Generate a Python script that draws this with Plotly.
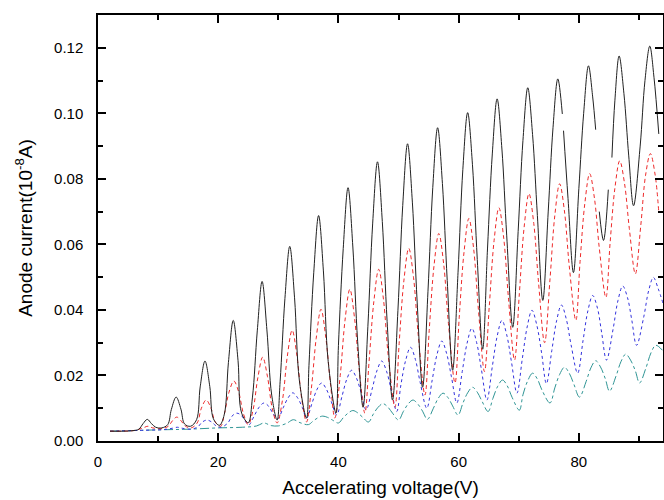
#!/usr/bin/env python3
"""
Franck-Hertz style anode current curves vs accelerating voltage.
"""

import plotly.graph_objects as go

# black solid curve (None marks the breaks in the trace)
volts_black = [2.0, 4.0, 6.0, 6.8, 7.5, 8.2, 8.9, 9.6, 10.6,
               11.6, 12.2, 13.0, 13.8, 14.4, 15.4,
               16.4, 17.0, 17.8, 18.6, 19.2, 20.2,
               21.0, 21.7, 22.5, 23.3, 23.9, 25.0,
               25.7, 26.5, 27.3, 28.1, 28.9, 29.8,
               30.3, 31.1, 31.9, 32.7, 33.5, 34.7,
               35.1, 35.9, 36.7, 37.5, 38.3, 39.6,
               40.0, 40.8, 41.6, 42.4, 43.2, 44.1,
               44.9, 45.7, 46.5, 47.3, 48.1, 49.0,
               49.9, 50.7, 51.5, 52.3, 53.1, 54.0,
               54.9, 55.7, 56.5, 57.3, 58.1, 59.0,
               59.9, 60.7, 61.5, 62.3, 63.1, 64.0,
               64.8, 65.6, 66.4, 67.2, 68.0, 69.0,
               69.9, 70.7, 71.5, 72.3, 73.1, 74.0,
               74.9, 75.7, 76.5, 77.25, None, 77.45, 78.2, 79.1,
               80.0, 80.8, 81.6, 82.3, 82.8, None, 83.4, 84.1, 84.9, None,
               85.5, 86.0, 86.7, 87.5, 88.3, 89.1,
               90.2, 91.0, 91.8, 92.5, 93.3]
current_black = [0.0030, 0.0030, 0.0032, 0.0036, 0.0053, 0.0066, 0.0053, 0.0042, 0.0040,
                 0.0050, 0.0096, 0.0134, 0.0097, 0.0052, 0.0045,
                 0.0065, 0.0165, 0.0244, 0.0166, 0.0068, 0.0048,
                 0.0080, 0.0240, 0.0368, 0.0245, 0.0085, 0.0056,
                 0.0134, 0.0336, 0.0487, 0.0339, 0.0140, 0.0064,
                 0.0181, 0.0435, 0.0594, 0.0437, 0.0185, 0.0070,
                 0.0231, 0.0515, 0.0688, 0.0519, 0.0242, 0.0085,
                 0.0291, 0.0587, 0.0773, 0.0592, 0.0303, 0.0103,
                 0.0350, 0.0665, 0.0852, 0.0670, 0.0365, 0.0125,
                 0.0399, 0.0719, 0.0907, 0.0729, 0.0424, 0.0164,
                 0.0457, 0.0774, 0.0956, 0.0786, 0.0490, 0.0216,
                 0.0515, 0.0829, 0.1002, 0.0843, 0.0554, 0.0280,
                 0.0586, 0.0876, 0.1044, 0.0891, 0.0626, 0.0347,
                 0.0639, 0.0917, 0.1078, 0.0935, 0.0688, 0.0429,
                 0.0699, 0.0956, 0.1105, 0.0998, None, 0.0947, 0.0740, 0.0514,
                 0.0770, 0.1000, 0.1145, 0.1050, 0.0950, None, 0.0700, 0.0612, 0.0767, None,
                 0.0865, 0.1040, 0.1175, 0.1060, 0.0870, 0.0718,
                 0.0900, 0.1100, 0.1205, 0.1110, 0.0937]

# red dashed curve
volts_red = [2.0, 6.0, 7.5, 8.3, 9.1, 10.7,
             11.7, 12.4, 13.1, 13.8, 14.5, 15.5,
             16.5, 17.2, 18.0, 18.8, 19.5, 20.4,
             21.0, 21.8, 22.6, 23.4, 24.2, 25.0,
             25.8, 26.6, 27.4, 28.2, 29.0, 29.8,
             30.7, 31.5, 32.3, 33.1, 33.9, 34.7,
             35.5, 36.3, 37.1, 37.9, 38.7, 39.4,
             40.3, 41.1, 41.9, 42.7, 43.5, 44.4,
             45.1, 45.9, 46.7, 47.5, 48.3, 49.4,
             50.1, 50.9, 51.7, 52.5, 53.3, 54.4,
             55.1, 55.9, 56.7, 57.5, 58.3, 59.4,
             60.1, 60.9, 61.7, 62.5, 63.3, 64.3,
             65.1, 65.9, 66.7, 67.5, 68.3, 69.3,
             70.1, 70.9, 71.7, 72.5, 73.3, 74.3,
             75.2, 76.0, 76.8, 77.6, 78.4, 79.5,
             80.2, 81.0, 81.8, 82.6, 83.4, 84.5,
             85.2, 86.0, 86.8, 87.6, 88.4, 89.4,
             90.3, 91.1, 91.9, 92.7, 93.3]
current_red = [0.0030, 0.0032, 0.0040, 0.0045, 0.0040, 0.0038,
               0.0045, 0.0062, 0.0073, 0.0062, 0.0046, 0.0040,
               0.0055, 0.0100, 0.0125, 0.0100, 0.0058, 0.0045,
               0.0080, 0.0149, 0.0183, 0.0150, 0.0083, 0.0050,
               0.0095, 0.0194, 0.0256, 0.0196, 0.0099, 0.0055,
               0.0126, 0.0259, 0.0338, 0.0260, 0.0128, 0.0058,
               0.0161, 0.0313, 0.0402, 0.0316, 0.0170, 0.0070,
               0.0200, 0.0369, 0.0463, 0.0372, 0.0210, 0.0085,
               0.0243, 0.0427, 0.0524, 0.0431, 0.0258, 0.0103,
               0.0297, 0.0491, 0.0588, 0.0498, 0.0319, 0.0140,
               0.0337, 0.0534, 0.0633, 0.0542, 0.0359, 0.0177,
               0.0378, 0.0577, 0.0679, 0.0586, 0.0399, 0.0212,
               0.0412, 0.0612, 0.0712, 0.0619, 0.0433, 0.0247,
               0.0450, 0.0653, 0.0755, 0.0664, 0.0482, 0.0300,
               0.0494, 0.0688, 0.0785, 0.0702, 0.0535, 0.0368,
               0.0547, 0.0726, 0.0816, 0.0740, 0.0589, 0.0438,
               0.0605, 0.0772, 0.0855, 0.0786, 0.0648, 0.0510,
               0.0657, 0.0811, 0.0877, 0.0811, 0.0697]

# blue dotted curve
volts_blue = [2.0, 8.0, 11.0, 12.4, 13.2, 14.0, 15.5,
              16.6, 17.3, 18.1, 18.9, 19.6, 20.5,
              21.6, 22.3, 23.1, 23.9, 24.5, 25.1,
              26.0, 26.8, 27.6, 28.4, 29.1, 29.9,
              30.8, 31.6, 32.4, 33.2, 34.0, 34.7,
              35.6, 36.4, 37.2, 38.0, 38.8, 39.7,
              40.6, 41.4, 42.2, 43.0, 43.8, 44.6,
              45.6, 46.4, 47.2, 48.0, 48.8, 49.7,
              50.4, 51.2, 52.0, 52.8, 53.6, 54.7,
              55.6, 56.4, 57.2, 58.0, 58.8, 59.7,
              60.6, 61.4, 62.2, 63.0, 63.8, 64.7,
              65.6, 66.4, 67.2, 68.0, 68.8, 69.7,
              70.6, 71.4, 72.2, 73.0, 73.8, 74.6,
              75.5, 76.3, 77.1, 77.9, 78.7, 79.8,
              80.7, 81.5, 82.3, 83.1, 83.8, 84.6,
              85.7, 86.5, 87.3, 88.1, 88.8, 89.6,
              90.8, 91.6, 92.4, 93.2, 94.0]
current_blue = [0.0030, 0.0033, 0.0035, 0.0039, 0.0042, 0.0039, 0.0036,
                0.0043, 0.0057, 0.0064, 0.0058, 0.0047, 0.0042,
                0.0055, 0.0076, 0.0085, 0.0077, 0.0060, 0.0049,
                0.0077, 0.0103, 0.0116, 0.0106, 0.0084, 0.0068,
                0.0101, 0.0131, 0.0147, 0.0132, 0.0102, 0.0070,
                0.0115, 0.0156, 0.0177, 0.0158, 0.0121, 0.0080,
                0.0137, 0.0189, 0.0216, 0.0192, 0.0146, 0.0095,
                0.0158, 0.0214, 0.0244, 0.0213, 0.0155, 0.0090,
                0.0172, 0.0247, 0.0286, 0.0249, 0.0179, 0.0100,
                0.0186, 0.0264, 0.0305, 0.0267, 0.0196, 0.0116,
                0.0212, 0.0298, 0.0344, 0.0300, 0.0217, 0.0125,
                0.0227, 0.0319, 0.0368, 0.0324, 0.0240, 0.0146,
                0.0252, 0.0348, 0.0399, 0.0354, 0.0269, 0.0175,
                0.0276, 0.0367, 0.0415, 0.0373, 0.0294, 0.0207,
                0.0307, 0.0397, 0.0444, 0.0405, 0.0330, 0.0247,
                0.0342, 0.0428, 0.0473, 0.0437, 0.0370, 0.0292,
                0.0379, 0.0458, 0.0499, 0.0465, 0.0420]

# teal dash-dot curve
volts_teal = [2.0, 10.0, 15.0, 20.0, 24.0, 26.4, 27.6, 28.8, 30.0, 31.4, 32.5, 33.6, 35.0,
              35.8, 36.6, 37.4, 38.2, 39.0, 40.0,
              40.8, 41.6, 42.4, 43.2, 44.0, 45.0,
              45.8, 46.6, 47.4, 48.2, 49.0, 50.0,
              50.8, 51.6, 52.4, 53.2, 54.0, 54.8,
              55.8, 56.6, 57.4, 58.2, 59.0, 59.9,
              60.7, 61.5, 62.3, 63.1, 63.9, 64.9,
              65.7, 66.5, 67.3, 68.1, 68.9, 70.1,
              70.7, 71.5, 72.3, 73.1, 73.9, 75.2,
              76.0, 76.8, 77.6, 78.4, 79.2, 80.1,
              81.2, 82.0, 82.8, 83.6, 84.4, 85.1,
              86.2, 87.0, 87.8, 88.6, 89.4, 90.1,
              91.2, 92.0, 92.8, 93.9]
current_teal = [0.0030, 0.0034, 0.0036, 0.0040, 0.0042, 0.0046, 0.0055, 0.0047, 0.0046, 0.0054, 0.0065, 0.0056, 0.0050,
                0.0061, 0.0071, 0.0076, 0.0072, 0.0064, 0.0055,
                0.0071, 0.0085, 0.0093, 0.0086, 0.0073, 0.0058,
                0.0082, 0.0103, 0.0114, 0.0104, 0.0085, 0.0064,
                0.0090, 0.0113, 0.0125, 0.0113, 0.0091, 0.0066,
                0.0100, 0.0130, 0.0146, 0.0133, 0.0107, 0.0079,
                0.0115, 0.0147, 0.0164, 0.0149, 0.0121, 0.0090,
                0.0130, 0.0167, 0.0186, 0.0168, 0.0133, 0.0094,
                0.0141, 0.0184, 0.0207, 0.0189, 0.0154, 0.0116,
                0.0162, 0.0203, 0.0225, 0.0207, 0.0172, 0.0134,
                0.0181, 0.0223, 0.0245, 0.0226, 0.0190, 0.0152,
                0.0199, 0.0242, 0.0265, 0.0247, 0.0214, 0.0177,
                0.0225, 0.0269, 0.0292, 0.0277]

x_ticks = [0, 20, 40, 60, 80]
y_ticks = [0.00, 0.02, 0.04, 0.06, 0.08, 0.10, 0.12]

fig = go.Figure()

series = [
    (volts_teal, current_teal, dict(color='#2f9595', width=1, dash='dashdot')),
    (volts_blue, current_blue, dict(color='#3333dd', width=1, dash='dot')),
    (volts_red, current_red, dict(color='#ee2a2a', width=1, dash='4px,3px')),
    (volts_black, current_black, dict(color='#222222', width=1)),
]
for vx, vy, line in series:
    fig.add_trace(go.Scatter(
        x=vx, y=vy, mode='lines',
        line=dict(shape='spline', smoothing=1.0, **line),
        connectgaps=False, hoverinfo='skip',
    ))

font_family = 'Liberation Sans, Arial, sans-serif'
axis_style = dict(
    showline=True, linecolor='black', linewidth=1.5, mirror='allticks',
    ticks='inside', ticklen=8, tickwidth=1.5, tickcolor='black',
    showgrid=False, zeroline=False, automargin=False,
    tickfont=dict(family=font_family, size=15, color='black'),
)

fig.update_xaxes(
    range=[0, 94], tickvals=x_ticks, ticklabelstandoff=6,
    minor=dict(dtick=10, tick0=0, ticks='inside', ticklen=5, tickwidth=1.5, tickcolor='black'),
    title=dict(text='Accelerating voltage(V)', standoff=12,
               font=dict(family=font_family, size=19, color='black')),
    **axis_style,
)
fig.update_yaxes(
    range=[0, 0.13], tickvals=y_ticks, tickformat='.2f', ticklabelstandoff=10,
    minor=dict(dtick=0.01, tick0=0, ticks='inside', ticklen=5, tickwidth=1.5, tickcolor='black'),
    title=dict(text='Anode current(10<sup>-8</sup>A)', standoff=16,
               font=dict(family=font_family, size=19, color='black')),
    **axis_style,
)

fig.update_layout(
    width=664, height=500,
    margin=dict(l=98, r=1, t=15, b=59),
    plot_bgcolor='white', paper_bgcolor='white',
    showlegend=False,
)

# drop the default page margin so the figure sits at the window corner
fig.write_html("out.html", config={'displayModeBar': False},
               post_script="document.body.style.margin='0';")
